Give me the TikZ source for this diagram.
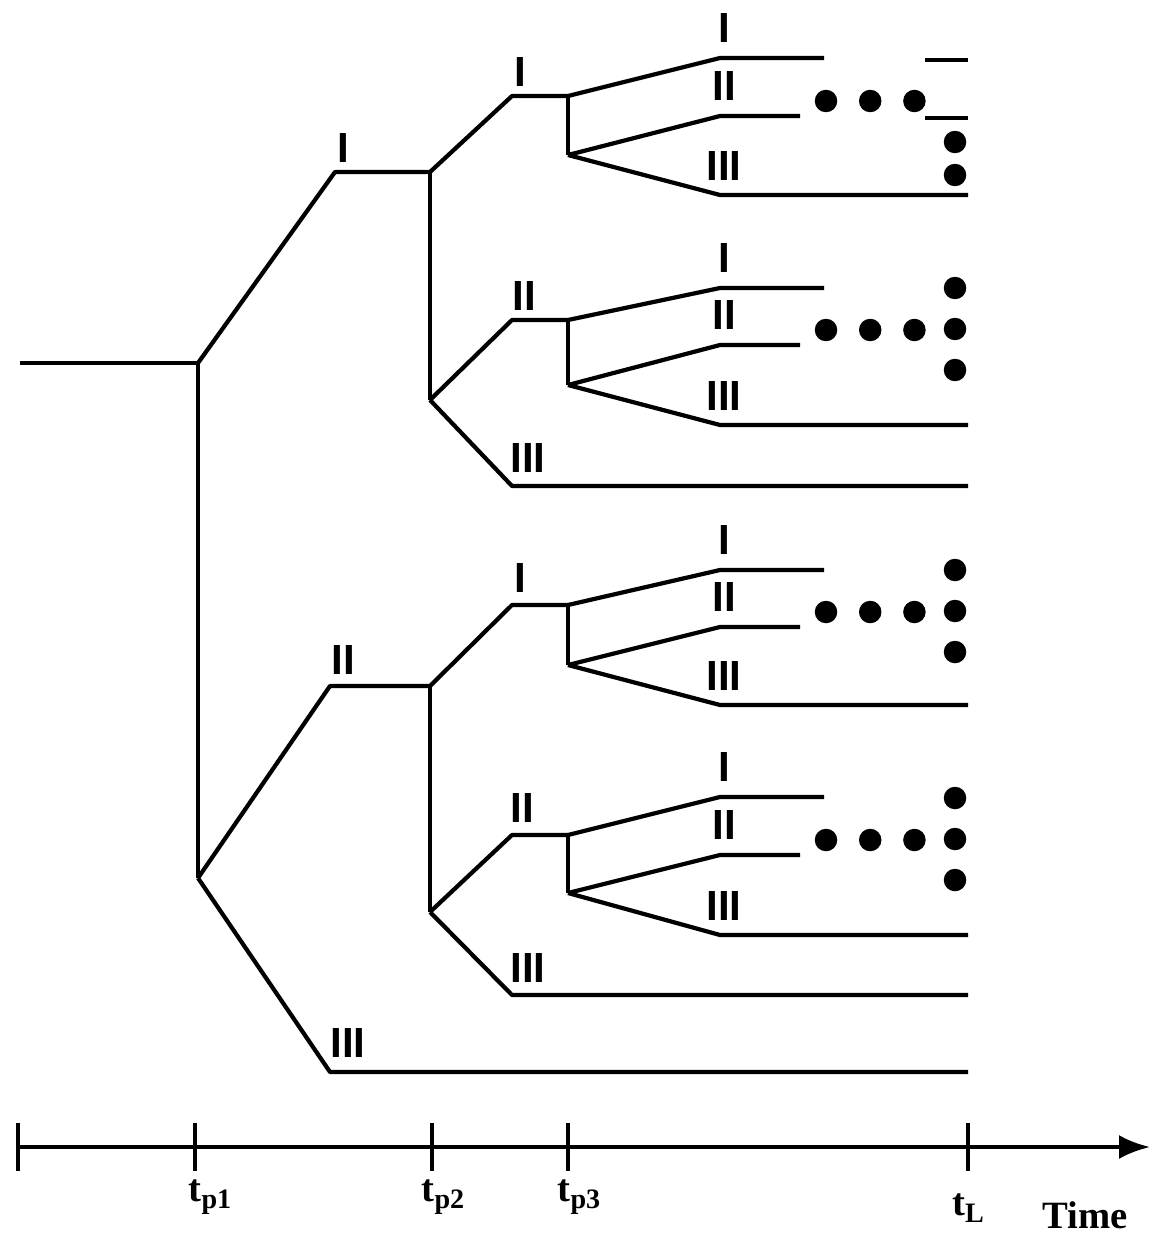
\documentclass[tikz,border=0pt]{standalone}
\usepackage{fontspec}
\setmainfont{Liberation Serif}
\newfontfamily\numfont{Liberation Sans}
\usetikzlibrary{arrows.meta,positioning}
\newcommand{\tsub}[1]{\raisebox{-0.35ex}{\fontsize{16}{16}\selectfont #1}}

\begin{document}
\begin{tikzpicture}[
  x=0.02cm, y=-0.02cm,
  line width=2.4pt, line join=round,
  lab/.style={font=\numfont\bfseries\fontsize{24}{24}\selectfont, inner sep=0pt},
  tlab/.style={font=\bfseries\fontsize{22}{22}\selectfont, inner sep=0pt},
  bigdot/.style={circle, fill, inner sep=0pt, minimum size=0.45cm}
]
\useasboundingbox (0,0) rectangle (1156,1240);

% first split at tp1
\coordinate (start) at (20,363);
\coordinate (p1) at (198,363);
\coordinate (p1b) at (198,878);
\coordinate (q1) at (430,172);
\coordinate (q1b) at (430,400);
\coordinate (q2) at (430,686);
\coordinate (q2b) at (430,912);
\coordinate (e3) at (968,1072);

\draw (start) -- (p1) -- (p1b);
\draw (p1) -- (335,172) -- (q1);
\draw (p1b) -- (330,686) -- (q2);
\draw (p1b) -- (330,1072) -- (e3);
\node[lab] (L1) at (343,148) {I};
\node[lab] (L2) at (343,660) {II};
\node[lab] (L3) at (348,1043) {III};

% third split at tp3
\foreach \n/\a/\b/\u/\v/\w in {1/96/155/58/116/195, 2/320/385/288/345/425,
                               3/605/665/570/627/705, 4/835/893/797/855/935} {
  \coordinate (r\n) at (568,\a);
  \coordinate (r\n b) at (568,\b);
  \coordinate (e\n a) at (824,\u);
  \coordinate (e\n b) at (800,\v);
  \coordinate (e\n c) at (968,\w);
  \draw (r\n) -- (r\n b);
  \draw (r\n) -- (720,\u) -- (e\n a);
  \draw (r\n b) -- (720,\v) -- (e\n b);
  \draw (r\n b) -- (720,\w) -- (e\n c);
  \node[lab] (m\n a) at (724,\u-30) {I};
  \node[lab] (m\n b) at (724,\v-30) {II};
  \node[lab] (m\n c) at (724,\w-29) {III};
  \node[bigdot] (h\n a) at (826,\v-15) {};
  \node[bigdot, right=0.35cm of h\n a] (h\n b) {};
  \node[bigdot, right=0.35cm of h\n b] (h\n c) {};
}

% second split at tp2
\coordinate (s1) at (968,486);
\coordinate (s2) at (968,995);
\draw (q1) -- (q1b);
\draw (q1) -- (512,96) -- (r1);
\draw (q1b) -- (512,320) -- (r2);
\draw (q1b) -- (512,486) -- (s1);
\draw (q2) -- (q2b);
\draw (q2) -- (512,605) -- (r3);
\draw (q2b) -- (512,835) -- (r4);
\draw (q2b) -- (512,995) -- (s2);
\node[lab] (n1) at (520,72) {I};
\node[lab] (n2) at (524,296) {II};
\node[lab] (n3) at (528,458) {III};
\node[lab] (n4) at (520,578) {I};
\node[lab] (n5) at (522,808) {II};
\node[lab] (n6) at (528,968) {III};

% end marks at tL
\coordinate (z1) at (925,60);
\coordinate (z1e) at (968,60);
\coordinate (z2) at (925,118);
\coordinate (z2e) at (968,118);
\draw (z1) -- (z1e);
\draw (z2) -- (z2e);
\node[bigdot] (v1a) at (955,142) {};
\node[bigdot] (v1b) at (955,175) {};
\foreach \n/\u in {2/288, 3/570, 4/798} {
  \node[bigdot] (v\n a) at (955,\u) {};
  \node[bigdot] (v\n b) at (955,\u+41) {};
  \node[bigdot] (v\n c) at (955,\u+82) {};
}

% time axis
\coordinate (ax0) at (18,1147);
\coordinate (ax1) at (1150,1147);
\draw[-{Latex[length=0.62cm, width=0.48cm]}] (ax0) -- (ax1);
\foreach \x/\t in {18/k0, 195/k1, 432/k2, 568/k3, 968/kL} {
  \coordinate (\t) at (\x,1147);
  \draw[line width=1.8pt] ([yshift=0.48cm]\t) -- ([yshift=-0.48cm]\t);
}
\node[tlab, below=0.62cm of k1, xshift=0.3cm] (tp1) {t\tsub{p1}};
\node[tlab, below=0.62cm of k2, xshift=0.22cm] (tp2) {t\tsub{p2}};
\node[tlab, below=0.62cm of k3, xshift=0.22cm] (tp3) {t\tsub{p3}};
\node[tlab, below=0.9cm of kL] (tL) {t\tsub{L}};
\node[tlab, anchor=base] (time) at (1085,1228) {Time};
\end{tikzpicture}
\end{document}
